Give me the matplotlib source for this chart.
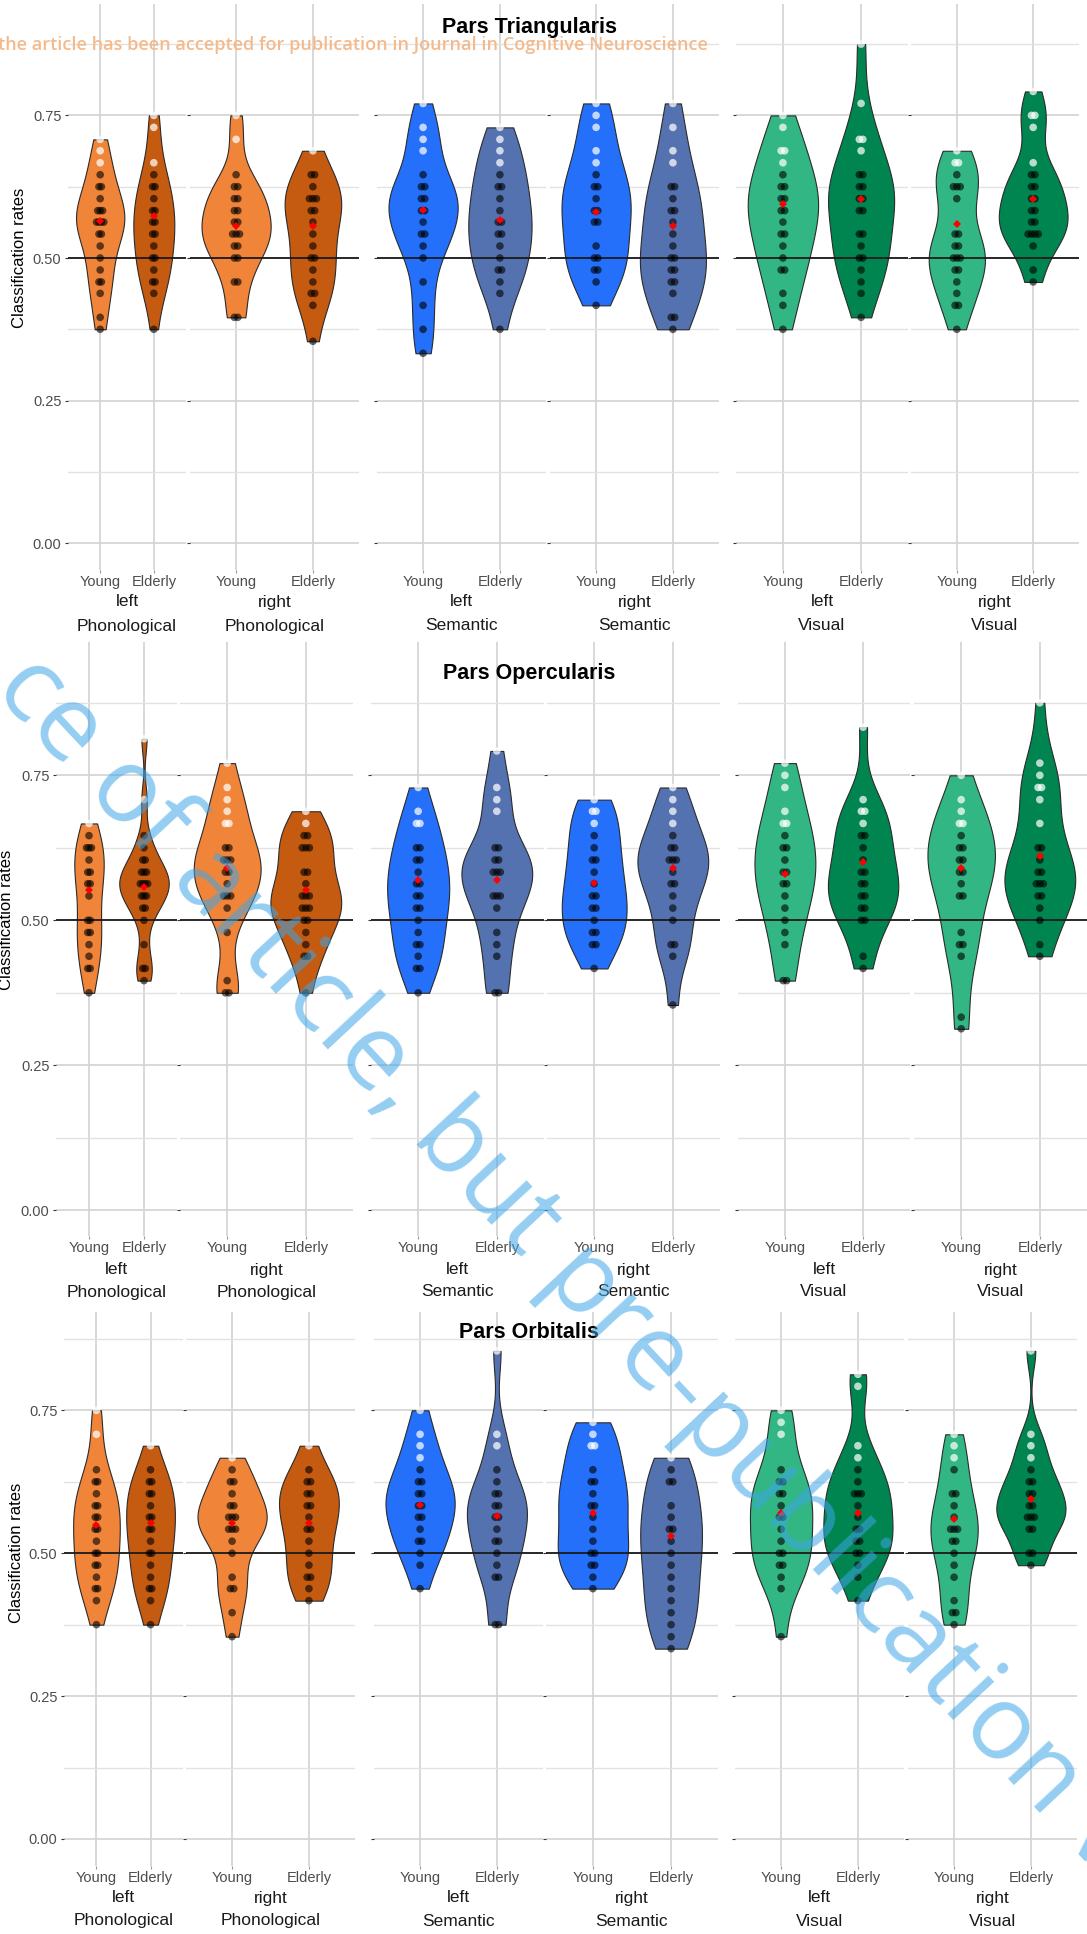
import numpy as np
import matplotlib
matplotlib.use("Agg")
import matplotlib.pyplot as plt

# classification rates per participant (region_task_hemisphere_group)
tri_phon_left_young = [0.708, 0.688, 0.667, 0.646, 0.625, 0.625, 0.604, 0.583, 0.583, 0.583, 0.563, 0.563, 0.563, 0.563, 0.542, 0.542, 0.521, 0.5, 0.479, 0.458, 0.458, 0.438, 0.396, 0.375]
tri_phon_left_elderly = [0.75, 0.729, 0.667, 0.646, 0.625, 0.625, 0.604, 0.583, 0.583, 0.563, 0.563, 0.542, 0.542, 0.521, 0.5, 0.5, 0.479, 0.458, 0.458, 0.438, 0.375]
tri_phon_right_young = [0.75, 0.708, 0.646, 0.625, 0.625, 0.604, 0.604, 0.583, 0.583, 0.563, 0.563, 0.542, 0.542, 0.542, 0.521, 0.521, 0.5, 0.5, 0.458, 0.458, 0.396, 0.396]
tri_phon_right_elderly = [0.688, 0.646, 0.646, 0.625, 0.604, 0.604, 0.604, 0.583, 0.583, 0.563, 0.542, 0.521, 0.5, 0.5, 0.479, 0.458, 0.438, 0.438, 0.417, 0.354]
tri_sem_left_young = [0.771, 0.729, 0.708, 0.688, 0.646, 0.625, 0.625, 0.604, 0.604, 0.583, 0.583, 0.563, 0.542, 0.542, 0.521, 0.5, 0.458, 0.417, 0.375, 0.333]
tri_sem_left_elderly = [0.729, 0.708, 0.688, 0.667, 0.646, 0.625, 0.625, 0.604, 0.583, 0.563, 0.563, 0.542, 0.542, 0.521, 0.5, 0.479, 0.479, 0.458, 0.438, 0.375]
tri_sem_right_young = [0.771, 0.75, 0.729, 0.688, 0.667, 0.646, 0.625, 0.625, 0.604, 0.583, 0.583, 0.563, 0.563, 0.521, 0.5, 0.5, 0.479, 0.479, 0.458, 0.417]
tri_sem_right_elderly = [0.771, 0.729, 0.688, 0.667, 0.625, 0.625, 0.604, 0.583, 0.583, 0.563, 0.542, 0.521, 0.5, 0.5, 0.479, 0.479, 0.458, 0.458, 0.438, 0.396, 0.396, 0.375]
tri_vis_left_young = [0.75, 0.729, 0.688, 0.688, 0.667, 0.646, 0.625, 0.625, 0.604, 0.604, 0.583, 0.583, 0.563, 0.542, 0.542, 0.521, 0.5, 0.479, 0.479, 0.438, 0.417, 0.375]
tri_vis_left_elderly = [0.875, 0.771, 0.708, 0.708, 0.688, 0.646, 0.646, 0.625, 0.625, 0.604, 0.604, 0.583, 0.583, 0.542, 0.542, 0.521, 0.5, 0.5, 0.479, 0.458, 0.438, 0.396]
tri_vis_right_young = [0.688, 0.667, 0.667, 0.646, 0.625, 0.625, 0.625, 0.604, 0.542, 0.542, 0.521, 0.521, 0.5, 0.5, 0.5, 0.479, 0.479, 0.458, 0.438, 0.417, 0.417, 0.375]
tri_vis_right_elderly = [0.792, 0.75, 0.75, 0.729, 0.667, 0.646, 0.646, 0.625, 0.625, 0.604, 0.604, 0.583, 0.583, 0.563, 0.563, 0.542, 0.542, 0.542, 0.542, 0.521, 0.479, 0.458]

ope_phon_left_young = [0.667, 0.646, 0.625, 0.625, 0.625, 0.604, 0.583, 0.583, 0.563, 0.563, 0.542, 0.5, 0.5, 0.479, 0.479, 0.458, 0.438, 0.417, 0.417, 0.375]
ope_phon_left_elderly = [0.813, 0.708, 0.646, 0.625, 0.604, 0.604, 0.583, 0.583, 0.583, 0.563, 0.563, 0.563, 0.563, 0.542, 0.542, 0.542, 0.521, 0.521, 0.5, 0.458, 0.417, 0.417, 0.396]
ope_phon_right_young = [0.771, 0.729, 0.708, 0.688, 0.667, 0.667, 0.625, 0.625, 0.604, 0.604, 0.604, 0.583, 0.583, 0.563, 0.542, 0.542, 0.542, 0.521, 0.479, 0.396, 0.375, 0.375]
ope_phon_right_elderly = [0.688, 0.667, 0.646, 0.646, 0.625, 0.625, 0.625, 0.583, 0.583, 0.563, 0.542, 0.542, 0.542, 0.521, 0.521, 0.521, 0.5, 0.5, 0.479, 0.458, 0.438, 0.438, 0.375]
ope_sem_left_young = [0.729, 0.688, 0.667, 0.667, 0.625, 0.625, 0.604, 0.604, 0.583, 0.563, 0.563, 0.542, 0.542, 0.521, 0.521, 0.5, 0.479, 0.458, 0.458, 0.438, 0.417, 0.417, 0.375]
ope_sem_left_elderly = [0.792, 0.729, 0.708, 0.688, 0.625, 0.625, 0.604, 0.604, 0.583, 0.583, 0.583, 0.542, 0.542, 0.542, 0.521, 0.479, 0.458, 0.438, 0.375, 0.375]
ope_sem_right_young = [0.708, 0.688, 0.688, 0.667, 0.646, 0.625, 0.604, 0.604, 0.583, 0.563, 0.542, 0.542, 0.521, 0.521, 0.5, 0.479, 0.479, 0.458, 0.458, 0.417]
ope_sem_right_elderly = [0.729, 0.708, 0.688, 0.667, 0.646, 0.625, 0.625, 0.604, 0.604, 0.604, 0.583, 0.563, 0.563, 0.542, 0.521, 0.5, 0.458, 0.458, 0.438, 0.354]
ope_vis_left_young = [0.771, 0.75, 0.729, 0.688, 0.667, 0.667, 0.646, 0.625, 0.625, 0.604, 0.583, 0.583, 0.563, 0.563, 0.542, 0.521, 0.5, 0.479, 0.458, 0.396, 0.396]
ope_vis_left_elderly = [0.833, 0.708, 0.688, 0.688, 0.667, 0.646, 0.646, 0.625, 0.604, 0.583, 0.583, 0.563, 0.563, 0.542, 0.542, 0.521, 0.521, 0.5, 0.5, 0.438, 0.417]
ope_vis_right_young = [0.75, 0.708, 0.688, 0.667, 0.667, 0.646, 0.625, 0.625, 0.604, 0.604, 0.583, 0.583, 0.563, 0.542, 0.542, 0.479, 0.458, 0.458, 0.438, 0.333, 0.313]
ope_vis_right_elderly = [0.875, 0.771, 0.75, 0.729, 0.729, 0.708, 0.667, 0.625, 0.625, 0.604, 0.583, 0.583, 0.563, 0.563, 0.563, 0.542, 0.542, 0.521, 0.5, 0.458, 0.438]

orb_phon_left_young = [0.75, 0.708, 0.646, 0.625, 0.625, 0.604, 0.583, 0.583, 0.563, 0.563, 0.542, 0.542, 0.521, 0.5, 0.5, 0.479, 0.479, 0.458, 0.438, 0.438, 0.417, 0.375]
orb_phon_left_elderly = [0.688, 0.646, 0.625, 0.625, 0.604, 0.604, 0.583, 0.563, 0.563, 0.542, 0.542, 0.521, 0.5, 0.5, 0.479, 0.458, 0.438, 0.438, 0.417, 0.375]
orb_phon_right_young = [0.667, 0.646, 0.625, 0.625, 0.604, 0.583, 0.583, 0.563, 0.563, 0.563, 0.542, 0.542, 0.542, 0.521, 0.5, 0.458, 0.438, 0.438, 0.396, 0.354]
orb_phon_right_elderly = [0.688, 0.646, 0.625, 0.625, 0.604, 0.604, 0.583, 0.583, 0.563, 0.542, 0.542, 0.521, 0.5, 0.479, 0.458, 0.458, 0.438, 0.417]
orb_sem_left_young = [0.75, 0.708, 0.688, 0.667, 0.646, 0.625, 0.625, 0.604, 0.604, 0.583, 0.583, 0.563, 0.563, 0.542, 0.521, 0.521, 0.5, 0.479, 0.438]
orb_sem_left_elderly = [0.854, 0.708, 0.688, 0.646, 0.625, 0.604, 0.604, 0.583, 0.583, 0.563, 0.563, 0.542, 0.521, 0.521, 0.5, 0.479, 0.458, 0.458, 0.375, 0.375]
orb_sem_right_young = [0.729, 0.708, 0.688, 0.688, 0.646, 0.625, 0.625, 0.604, 0.583, 0.583, 0.563, 0.542, 0.521, 0.5, 0.5, 0.479, 0.479, 0.458, 0.438]
orb_sem_right_elderly = [0.667, 0.646, 0.625, 0.625, 0.583, 0.563, 0.542, 0.542, 0.521, 0.5, 0.479, 0.458, 0.438, 0.417, 0.396, 0.375, 0.354, 0.333]
orb_vis_left_young = [0.75, 0.729, 0.708, 0.646, 0.625, 0.625, 0.604, 0.604, 0.583, 0.563, 0.563, 0.542, 0.521, 0.5, 0.5, 0.479, 0.479, 0.458, 0.438, 0.354]
orb_vis_left_elderly = [0.813, 0.792, 0.688, 0.667, 0.646, 0.625, 0.604, 0.604, 0.604, 0.583, 0.563, 0.542, 0.542, 0.521, 0.521, 0.5, 0.5, 0.479, 0.458, 0.417]
orb_vis_right_young = [0.708, 0.688, 0.667, 0.646, 0.604, 0.604, 0.583, 0.563, 0.542, 0.542, 0.542, 0.521, 0.521, 0.5, 0.479, 0.458, 0.417, 0.396, 0.396, 0.375]
orb_vis_right_elderly = [0.854, 0.708, 0.688, 0.667, 0.646, 0.625, 0.625, 0.604, 0.604, 0.583, 0.583, 0.563, 0.563, 0.563, 0.542, 0.542, 0.5, 0.5, 0.479]

# red group means, order: phon L young/elderly, phon R, sem L, sem R, vis L, vis R
tri_means = [0.565, 0.574, 0.556, 0.556, 0.585, 0.566, 0.58, 0.556, 0.594, 0.603, 0.56, 0.604]
ope_means = [0.552, 0.557, 0.59, 0.552, 0.57, 0.57, 0.565, 0.59, 0.58, 0.6, 0.59, 0.61]
orb_means = [0.55, 0.553, 0.553, 0.553, 0.585, 0.565, 0.57, 0.53, 0.57, 0.57, 0.56, 0.595]

regions = ["Pars Triangularis", "Pars Opercularis", "Pars Orbitalis"]
tasks = ["Phonological", "Semantic", "Visual"]
hemispheres = ["left", "right"]
groups = ["Young", "Elderly"]
y_ticks = [0.0, 0.25, 0.5, 0.75]
y_tick_labels = ["0.00", "0.25", "0.50", "0.75"]
chance = 0.5
white_above = 0.66

DATA = {
    "tri": [tri_phon_left_young, tri_phon_left_elderly, tri_phon_right_young, tri_phon_right_elderly,
            tri_sem_left_young, tri_sem_left_elderly, tri_sem_right_young, tri_sem_right_elderly,
            tri_vis_left_young, tri_vis_left_elderly, tri_vis_right_young, tri_vis_right_elderly],
    "ope": [ope_phon_left_young, ope_phon_left_elderly, ope_phon_right_young, ope_phon_right_elderly,
            ope_sem_left_young, ope_sem_left_elderly, ope_sem_right_young, ope_sem_right_elderly,
            ope_vis_left_young, ope_vis_left_elderly, ope_vis_right_young, ope_vis_right_elderly],
    "orb": [orb_phon_left_young, orb_phon_left_elderly, orb_phon_right_young, orb_phon_right_elderly,
            orb_sem_left_young, orb_sem_left_elderly, orb_sem_right_young, orb_sem_right_elderly,
            orb_vis_left_young, orb_vis_left_elderly, orb_vis_right_young, orb_vis_right_elderly],
}
MEANS = {"tri": tri_means, "ope": ope_means, "orb": orb_means}

FILLS = [("#F0853A", "#C55A11"), ("#2470FA", "#5572B0"), ("#32B784", "#008550")]

# layout, in pixels of the 1087x1934 canvas
W, H = 1087, 1934
ROW_TOP = [4, 642, 1312]
ROW_BOTTOM = [570, 1236, 1866]
ROW_ZERO = [543.2, 1210.3, 1839.0]
ROW_UNIT = [570.4, 580.0, 571.6]
FACET_X = [
    [(68, 186), (190, 359), (377, 546), (550, 719), (736, 908), (911, 1079)],
    [(56, 177), (180, 353), (371, 544), (547, 720), (738, 910), (914, 1087)],
    [(64, 183), (186, 355), (374, 543), (546, 718), (735, 904), (908, 1077)],
]
STRIP_Y = [602, 1270, 1898]
XTITLE_Y = [626, 1292, 1921]
TITLE_Y = [28, 673, 1332]
YLABEL_X = [20, 7, 17]

plt.rcParams["font.family"] = ["Liberation Sans", "DejaVu Sans"]
fig = plt.figure(figsize=(W / 100, H / 100), dpi=100)
fig.patch.set_facecolor("white")


def kde(values):
    v = np.asarray(values, dtype=float)
    n = v.size
    iqr = np.subtract(*np.percentile(v, [75, 25]))
    bw = 0.9 * min(v.std(ddof=1), iqr / 1.34) * n ** -0.2
    grid = np.linspace(v.min(), v.max(), 512)
    dens = np.exp(-0.5 * ((grid[:, None] - v[None, :]) / bw) ** 2).sum(1) / (n * bw * np.sqrt(2 * np.pi))
    return grid, dens


def draw_facet(ax, pair, colors, means):
    kdes = [kde(v) for v in pair]
    peak = max(d.max() for _, d in kdes)
    for pos, vals, (grid, dens), color, mean in zip((1, 2), pair, kdes, colors, means):
        half = 0.45 * dens / peak
        ax.fill_betweenx(grid, pos - half, pos + half, facecolor=color, edgecolor="#2b2b2b", linewidth=0.8, zorder=2)
        uniq, counts = np.unique(vals, return_counts=True)
        xs, ys, cs = [], [], []
        for u, c in zip(uniq, counts):
            for i in range(c):
                xs.append(pos + (i - (c - 1) / 2) * 0.045)
                ys.append(u)
                cs.append((1, 1, 1, 0.72) if u >= white_above else (0, 0, 0, 0.6))
        ax.scatter(xs, ys, s=30, c=cs, linewidths=0, zorder=4)
        ax.plot(pos, mean, marker="D", color="red", markersize=4.5, markeredgewidth=0, zorder=5)
    ax.axhline(chance, color="#1a1a1a", linewidth=1.3, zorder=3)


for r, key in enumerate(["tri", "ope", "orb"]):
    y0, y1 = ROW_TOP[r], ROW_BOTTOM[r]
    zero, unit = ROW_ZERO[r], ROW_UNIT[r]
    for f, (x0, x1) in enumerate(FACET_X[r]):
        ax = fig.add_axes([x0 / W, 1 - y1 / H, (x1 - x0) / W, (y1 - y0) / H])
        ax.set_xlim(0.4, 2.6)
        ax.set_ylim((zero - y1) / unit, (zero - y0) / unit)
        task = f // 2
        pair = DATA[key][2 * f:2 * f + 2]
        draw_facet(ax, pair, FILLS[task], MEANS[key][2 * f:2 * f + 2])
        ax.set_xticks([1, 2], groups)
        ax.set_yticks(y_ticks, y_tick_labels if f == 0 else [""] * 4)
        ax.set_yticks([0.125, 0.375, 0.625, 0.875], minor=True)
        ax.tick_params(axis="y", which="major", length=2.2, width=0.8, color="#333333", pad=2.5,
                       labelsize=10.5, labelcolor="#4D4D4D")
        ax.tick_params(axis="y", which="minor", length=0)
        ax.tick_params(axis="x", length=2.2, width=0.8, color="#999999", pad=1.5,
                       labelsize=10.5, labelcolor="#4D4D4D")
        ax.grid(which="major", color="#D4D4D4", linewidth=1.25)
        ax.grid(axis="y", which="minor", color="#E2E2E2", linewidth=1.0)
        ax.set_axisbelow(True)
        for s in ax.spines.values():
            s.set_visible(False)
        ax.patch.set_alpha(0)
        cx = (x0 + x1) / 2 / W
        fig.text(cx, 1 - STRIP_Y[r] / H, hemispheres[f % 2], ha="center", va="center", fontsize=12.5, color="#1a1a1a")
        fig.text(cx, 1 - XTITLE_Y[r] / H, tasks[task], ha="center", va="center", fontsize=12.5, color="#1a1a1a")
    fig.text(529 / W, 1 - TITLE_Y[r] / H, regions[r], ha="center", va="center", fontsize=15.5, fontweight="bold")
    fig.text(YLABEL_X[r] / W, 1 - (zero - chance * unit) / H, "Classification rates", rotation=90,
             ha="center", va="center", fontsize=12)

note = fig.text(-2 / W, 1 - 45 / H, "the article has been accepted for publication in Journal in Cognitive Neuroscience",
                ha="left", va="center", fontsize=14, color="#F5BA8C", fontweight="semibold",
                family=["Open Sans", "DejaVu Sans"], zorder=10)
fig.canvas.draw()
note.set_fontsize(14 * 716 / note.get_window_extent().width)

fig.text(-8 / W, 1 - 690 / H, "ce of article, but pre-publication version", rotation=-47, rotation_mode="anchor",
         ha="left", va="baseline", fontsize=75, color="#3DA5E8", alpha=0.55,
         family=["Open Sans", "DejaVu Sans"], zorder=10)

fig.savefig("out.png", dpi=100, facecolor="white")
